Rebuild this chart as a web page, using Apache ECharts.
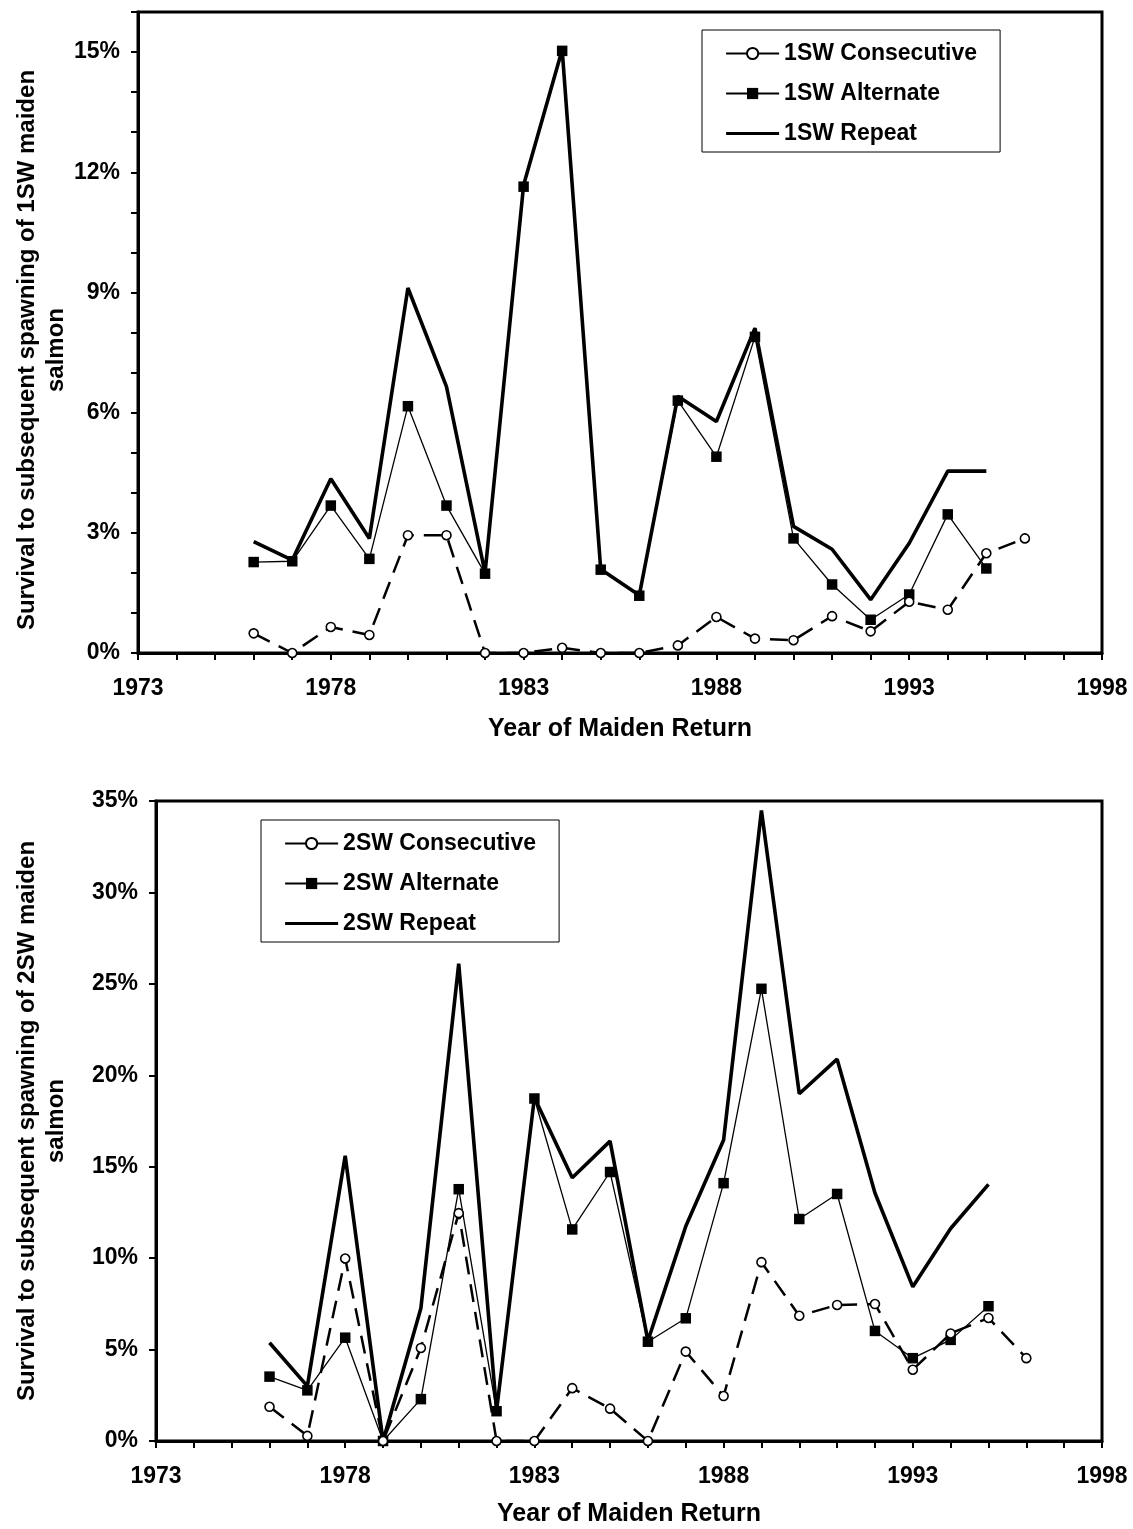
<!DOCTYPE html>
<html>
<head>
<meta charset="utf-8">
<title>Survival to subsequent spawning of maiden salmon</title>
<script src="https://cdn.jsdelivr.net/npm/echarts@6/dist/echarts.min.js"></script>
<style>
  html, body { margin: 0; padding: 0; background: #fff; }
  #chart { width: 1133px; height: 1529px; }
</style>
</head>
<body>
<div id="chart"></div>
<script>
// Year of maiden return
const years = [1976, 1977, 1978, 1979, 1980, 1981, 1982, 1983, 1984, 1985, 1986,
               1987, 1988, 1989, 1990, 1991, 1992, 1993, 1994, 1995, 1996];

// 1SW maiden salmon, survival to subsequent spawning (%)
const consecutive1SW = [0.49, 0.00, 0.65, 0.45, 2.94, 2.94, 0.00, 0.00, 0.13, 0.00, 0.00,
                        0.19, 0.90, 0.36, 0.32, 0.92, 0.54, 1.28, 1.08, 2.49, 2.86];
const alternate1SW   = [2.27, 2.29, 3.68, 2.35, 6.16, 3.68, 1.98, 11.64, 15.03, 2.08, 1.43,
                        6.30, 4.90, 7.89, 2.86, 1.71, 0.83, 1.46, 3.46, 2.11, null];
const repeat1SW      = [2.78, 2.32, 4.35, 2.86, 9.11, 6.65, 2.00, 11.68, 15.06, 2.09, 1.44,
                        6.41, 5.78, 8.11, 3.16, 2.59, 1.33, 2.74, 4.54, 4.54, null];

// 2SW maiden salmon, survival to subsequent spawning (%)
const consecutive2SW = [1.87, 0.28, 9.98, 0.00, 5.09, 12.46, 0.00, 0.00, 2.89, 1.77, 0.00,
                        4.89, 2.46, 9.78, 6.85, 7.44, 7.49, 3.90, 5.88, 6.73, 4.53];
const alternate2SW   = [3.52, 2.77, 5.65, 0.00, 2.29, 13.77, 1.63, 18.73, 11.57, 14.71, 5.43,
                        6.71, 14.10, 24.73, 12.14, 13.51, 6.02, 4.53, 5.53, 7.37, null];
const repeat2SW      = [5.37, 3.00, 15.60, 0.00, 7.26, 26.10, 1.66, 18.78, 14.40, 16.40, 5.48,
                        11.74, 16.46, 34.48, 18.99, 20.88, 13.56, 8.43, 11.62, 14.03, null];

// Tick labels
const xTickLabels = [1973, 1978, 1983, 1988, 1993, 1998];
const yTickLabels1SW = [0, 3, 6, 9, 12, 15];
const yTickLabels2SW = [0, 5, 10, 15, 20, 25, 30, 35];

const FONT = '"Liberation Sans", Arial, Helvetica, sans-serif';

function pairs(vals) {
  const out = [];
  years.forEach((y, i) => { if (vals[i] !== null) out.push([y, vals[i]]); });
  return out;
}

function xAxisFor(gridIndex, gap) {
  return {
    type: 'value', gridIndex: gridIndex,
    min: 1973, max: 1998, interval: 1,
    name: 'Year of Maiden Return', nameLocation: 'middle', nameGap: gap,
    nameTextStyle: { fontFamily: FONT, fontWeight: 'bold', fontSize: 25, color: '#000', verticalAlign: 'middle' },
    axisLine: { show: true, onZero: false, lineStyle: { color: '#000', width: 3 } },
    axisTick: { show: true, inside: false, length: 7, lineStyle: { color: '#000', width: 2 } },
    axisLabel: {
      margin: 24, fontFamily: FONT, fontWeight: 'bold', fontSize: 23, color: '#000',
      formatter: v => (xTickLabels.indexOf(v) >= 0 ? String(v) : '')
    },
    splitLine: { show: false }
  };
}

function yAxisFor(gridIndex, max, interval, labels) {
  return {
    type: 'value', gridIndex: gridIndex,
    min: 0, max: max, interval: interval,
    axisLine: { show: true, onZero: false, lineStyle: { color: '#000', width: 3 } },
    axisTick: { show: true, inside: false, length: 7, lineStyle: { color: '#000', width: 2 } },
    axisLabel: {
      margin: 18, fontFamily: FONT, fontWeight: 'bold', fontSize: 23, color: '#000',
      formatter: v => (labels.indexOf(v) >= 0 ? v + '%' : '')
    },
    splitLine: { show: false }
  };
}

function seriesFor(idx, prefix, consec, alt, rep) {
  return [
    {
      name: prefix + ' Repeat', type: 'line', xAxisIndex: idx, yAxisIndex: idx,
      data: pairs(rep), symbol: 'none', clip: false, z: 2,
      lineStyle: { color: '#000', width: 3.6 }, itemStyle: { color: '#000' }
    },
    {
      name: prefix + ' Alternate', type: 'line', xAxisIndex: idx, yAxisIndex: idx,
      data: pairs(alt), symbol: 'rect', symbolSize: 10.5, clip: false, z: 3,
      lineStyle: { color: '#000', width: 1.3 }, itemStyle: { color: '#000' }
    },
    {
      name: prefix + ' Consecutive', type: 'line', xAxisIndex: idx, yAxisIndex: idx,
      data: pairs(consec), symbol: 'circle', symbolSize: 9, clip: false, z: 4,
      lineStyle: { color: '#000', width: 2.5, type: [18, 10] },
      itemStyle: { color: '#fff', borderColor: '#000', borderWidth: 1.6 }
    }
  ];
}

function legendFor(prefix, left, top) {
  return {
    orient: 'vertical', left: left, top: top,
    data: [
      { name: prefix + ' Consecutive', lineStyle: { type: 'solid', width: 2.2 } },
      { name: prefix + ' Alternate' },
      { name: prefix + ' Repeat', icon: 'path://M0,0H53V3H0Z' }
    ],
    padding: [12, 23, 7, 23],
    borderColor: '#000', borderWidth: 1, backgroundColor: '#fff',
    itemWidth: 53, itemHeight: 14, itemGap: 17,
    selectedMode: false,
    textStyle: { fontFamily: FONT, fontWeight: 'bold', fontSize: 23, color: '#000' }
  };
}

function yTitle(x, y, sw) {
  return {
    type: 'text', x: x, y: y, rotation: Math.PI / 2, silent: true,
    style: {
      text: 'Survival to subsequent spawning of ' + sw + ' maiden\nsalmon',
      fontFamily: FONT, fontWeight: 'bold', fontSize: 24, lineHeight: 29,
      fill: '#000', align: 'center', verticalAlign: 'middle'
    }
  };
}

const chart = echarts.init(document.getElementById('chart'), null, { renderer: 'canvas' });
chart.setOption({
  animation: false,
  backgroundColor: '#fff',
  grid: [
    { left: 138, top: 12, width: 964, height: 641, show: true, borderColor: '#000', borderWidth: 3, backgroundColor: 'transparent' },
    { left: 156, top: 801, width: 946, height: 640, show: true, borderColor: '#000', borderWidth: 3, backgroundColor: 'transparent' }
  ],
  xAxis: [xAxisFor(0, 76), xAxisFor(1, 73)],
  yAxis: [yAxisFor(0, 16, 1, yTickLabels1SW), yAxisFor(1, 35, 5, yTickLabels2SW)],
  legend: [legendFor('1SW', 702, 30), legendFor('2SW', 261, 820)],
  graphic: [yTitle(42, 350, '1SW'), yTitle(42, 1121, '2SW')],
  series: [].concat(
    seriesFor(0, '1SW', consecutive1SW, alternate1SW, repeat1SW),
    seriesFor(1, '2SW', consecutive2SW, alternate2SW, repeat2SW)
  )
});
</script>
</body>
</html>
